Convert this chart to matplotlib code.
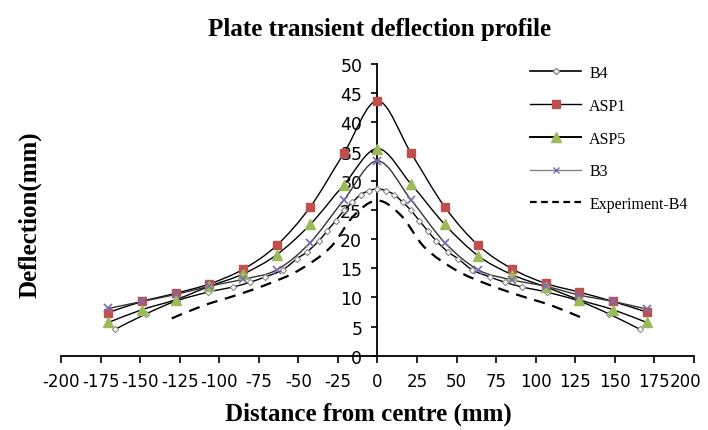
import numpy as np
import matplotlib
matplotlib.use("Agg")
import matplotlib.pyplot as plt
import matplotlib.transforms as mtransforms
from matplotlib.path import Path
from matplotlib.patches import PathPatch
from matplotlib.lines import Line2D

# ---------------- data ----------------
x_main = [-170, -148.75, -127.5, -106.25, -85, -63.75, -42.5, -21.25, 0,
          21.25, 42.5, 63.75, 85, 106.25, 127.5, 148.75, 170]
asp1 = [7.4, 9.3, 10.7, 12.3, 14.8, 18.9, 25.5, 34.7, 43.7,
        34.7, 25.5, 18.9, 14.9, 12.4, 10.9, 9.3, 7.5]
asp5 = [5.7, 7.9, 9.6, 11.9, 14.0, 17.3, 22.5, 29.3, 35.5,
        29.4, 22.5, 17.1, 13.9, 11.8, 9.6, 7.9, 5.7]
b3 = [8.1, 9.3, 10.5, 11.9, 13.1, 14.7, 19.4, 26.7, 33.4,
      26.7, 19.4, 14.7, 13.0, 11.9, 10.4, 9.3, 8.0]

x_b4 = [-166, -146, -127, -107, -91, -80.5, -71, -60, -51, -44.5, -37, -31.8,
        -26.5, -21.2, -15.9, -10.6, -5.3, 0, 5.3, 10.6, 15.9, 21.2, 26.5, 31.8,
        37, 44.5, 51, 60, 71, 80.5, 91, 107, 127, 146, 166]
b4 = [4.5, 7.2, 9.4, 10.9, 11.8, 12.6, 13.5, 14.7, 16.6, 17.8, 19.7, 21.4,
      23.1, 24.9, 26.3, 27.6, 28.3, 28.6, 28.3, 27.6, 26.3, 24.9, 23.1, 21.4,
      19.7, 17.8, 16.6, 14.7, 13.5, 12.6, 11.8, 10.9, 9.4, 7.2, 4.5]

x_exp = [-130, -110, -90, -70, -50, -30, -15, 0, 15, 30, 50, 70, 90, 110, 130]
exp_b4 = [6.4, 8.6, 10.3, 12.2, 14.6, 18.5, 24.0, 26.6, 24.0, 18.5, 14.6,
          12.2, 10.3, 8.6, 6.4]

labels = ["B4", "ASP1", "ASP5", "B3", "Experiment-B4"]
x_ticks = list(range(-200, 201, 25))
y_ticks = list(range(0, 51, 5))

# ---------------- helpers ----------------
def smooth_path(xs, ys):
    """Excel-like smoothed line: cubic Bezier segments (Catmull-Rom control points)."""
    p = np.column_stack([xs, ys]).astype(float)
    n = len(p)
    verts = [p[0]]
    codes = [Path.MOVETO]
    for i in range(n - 1):
        p0 = p[i - 1] if i > 0 else p[i]
        p1 = p[i]
        p2 = p[i + 1]
        p3 = p[i + 2] if i + 2 < n else p[i + 1]
        c1 = p1 + (p2 - p0) / 6.0
        c2 = p2 - (p3 - p1) / 6.0
        verts += [c1, c2, p2]
        codes += [Path.CURVE4] * 3
    return Path(verts, codes)

serif = "Liberation Serif"

fig = plt.figure(figsize=(7.08, 4.31), dpi=100)
W, H = 708, 431
ax = fig.add_axes([61 / W, 1 - 356.7 / H, (694 - 61) / W, (356.7 - 65) / H])
ax.set_xlim(-200, 200)
ax.set_ylim(0, 50)

# spines like Excel: vertical axis crossing at x = 0
ax.spines["left"].set_position(("data", 0))
ax.spines["right"].set_visible(False)
ax.spines["top"].set_visible(False)
for s in ("left", "bottom"):
    ax.spines[s].set_linewidth(1.3)
    ax.spines[s].set_color("black")

ax.set_xticks(x_ticks)
ax.set_yticks(y_ticks)
ax.set_xticklabels([str(v) for v in x_ticks])
ax.set_yticklabels([str(v) for v in y_ticks])
ax.tick_params(axis="x", direction="out", length=5, width=1.2, pad=7,
               labelsize=12)
ax.tick_params(axis="y", direction="out", length=4, width=1.2, pad=7,
               labelsize=12.5)
for t in ax.get_xticklabels() + ax.get_yticklabels():
    t.set_fontfamily("DejaVu Sans")
# last x label nudged left so it stays inside the picture (as in the reference)
last = ax.get_xticklabels()[-1]
last.set_transform(last.get_transform() +
                   mtransforms.ScaledTranslation(-8 / 100, 0, fig.dpi_scale_trans))

lw = 1.0
# smoothed lines
series = [
    (x_b4, b4, "black", lw, "-"),
    (x_main, asp1, "black", lw, "-"),
    (x_main, asp5, "black", lw, "-"),
    (x_main, b3, "#333333", lw, "-"),
]
for xs, ys, col, w, ls in series:
    ax.add_patch(PathPatch(smooth_path(xs, ys), fill=False, edgecolor=col,
                           linewidth=w, linestyle=ls, zorder=2))
ax.add_patch(PathPatch(smooth_path(x_exp, exp_b4), fill=False, edgecolor="black",
                       linewidth=1.6, linestyle=(0, (5, 3.5)), zorder=2))

# markers
ax.plot(x_b4, b4, linestyle="none", marker="D", markersize=3.2,
        markerfacecolor="white", markeredgecolor="#8a8a8a",
        markeredgewidth=0.8, zorder=3)
ax.plot(x_main, asp1, linestyle="none", marker="s", markersize=6,
        markerfacecolor="#C0504D", markeredgecolor="#C0504D", zorder=3)
ax.plot(x_main, asp5, linestyle="none", marker="^", markersize=6.5,
        markerfacecolor="#9BBB59", markeredgecolor="#9BBB59", zorder=3)
ax.plot(x_main, b3, linestyle="none", marker="x", markersize=6,
        markeredgecolor="#7D6BB0", markeredgewidth=1.2, zorder=4)

# legend proxies
handles = [
    Line2D([], [], color="black", lw=1.2, marker="D", markersize=3.2,
           markerfacecolor="white", markeredgecolor="#8a8a8a"),
    Line2D([], [], color="black", lw=1.0, marker="s", markersize=6,
           markerfacecolor="#C0504D", markeredgecolor="#C0504D"),
    Line2D([], [], color="black", lw=1.4, marker="^", markersize=6.5,
           markerfacecolor="#9BBB59", markeredgecolor="#9BBB59"),
    Line2D([], [], color="#888888", lw=1.0, marker="x", markersize=5,
           markeredgecolor="#7D6BB0"),
    Line2D([], [], color="black", lw=1.6, linestyle=(0, (3, 2))),
]
leg = fig.legend(handles, labels, loc="upper left",
                 bbox_to_anchor=(530 / W, 1 - 66 / H), frameon=False,
                 prop={"family": serif, "size": 11.5}, handlelength=3.2,
                 handletextpad=0.5, labelspacing=1.05, borderaxespad=0,
                 borderpad=0)

# titles
fig.text(380 / W, 1 - 36 / H, "Plate transient deflection profile",
         ha="center", va="baseline", fontsize=18, fontweight="bold",
         family=serif)
fig.text(368 / W, 1 - 421 / H, "Distance from centre (mm)",
         ha="center", va="baseline", fontsize=18, fontweight="bold",
         family=serif)
fig.text(30 / W, 1 - 215 / H, "Deflection(mm)", rotation=90,
         ha="center", va="center", fontsize=18, fontweight="bold",
         family=serif)

fig.savefig("out.png", dpi=100)
